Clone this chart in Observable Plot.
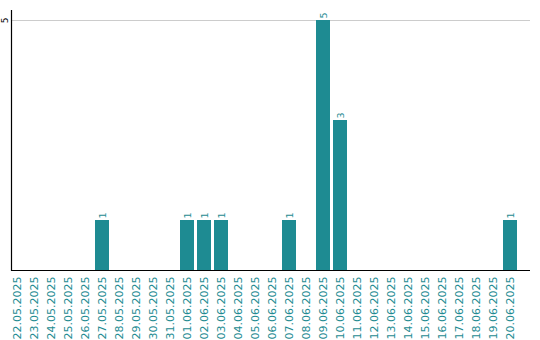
<!DOCTYPE html>
<html>
<head>
<meta charset="utf-8">
<script src="https://cdn.jsdelivr.net/npm/d3@7"></script>
<script src="https://cdn.jsdelivr.net/npm/@observablehq/plot@0.6"></script>
<style>
  html, body { margin: 0; padding: 0; background: #fff; }
  #chart svg { display: block; }
</style>
</head>
<body>
<div id="chart"></div>
<script>
const dates = [
  "22.05.2025","23.05.2025","24.05.2025","25.05.2025","26.05.2025","27.05.2025",
  "28.05.2025","29.05.2025","30.05.2025","31.05.2025","01.06.2025","02.06.2025",
  "03.06.2025","04.06.2025","05.06.2025","06.06.2025","07.06.2025","08.06.2025",
  "09.06.2025","10.06.2025","11.06.2025","12.06.2025","13.06.2025","14.06.2025",
  "15.06.2025","16.06.2025","17.06.2025","18.06.2025","19.06.2025","20.06.2025"
];
const counts = [0,0,0,0,0,1, 0,0,0,0,1,1, 1,0,0,0,1,0, 5,3,0,0,0,0, 0,0,0,0,0,1];
const yTicks = [5];

const teal = "#1e8b92";
const data = dates.map((d, i) => ({date: d, count: counts[i]}));
const nonzero = data.filter(d => d.count > 0);

const chart = Plot.plot({
  width: 540,
  height: 340,
  marginTop: 10,
  marginLeft: 11,
  marginRight: 10,
  marginBottom: 70,
  style: {fontFamily: "DejaVu Sans, sans-serif", background: "#fff"},
  x: {domain: dates, range: [8.5, 518.5], paddingInner: 0.18, paddingOuter: 0.09, label: null},
  y: {domain: [0, 5.2], label: null},
  marks: [
    Plot.gridY(yTicks, {stroke: "#cccccc", strokeOpacity: 1}),
    Plot.barY(nonzero, {x: "date", y: "count", fill: teal}),
    Plot.text(nonzero, {x: "date", y: "count", text: d => String(d.count), rotate: -90, textAnchor: "start", dy: -2, fill: teal, fontSize: 9.5}),
    Plot.ruleY([0], {stroke: "#000", strokeWidth: 1.2}),
    Plot.frame({anchor: "left", stroke: "#000", strokeWidth: 1.2}),
    Plot.axisX({tickSize: 0, tickRotate: -90, tickPadding: 6, fill: teal, fontSize: 11, label: null}),
    Plot.axisY(yTicks, {tickSize: 0, tickRotate: -90, tickPadding: 4, fontSize: 9, fill: "#000", tickFormat: d => String(d), label: null})
  ]
});
document.getElementById("chart").appendChild(chart);
</script>
</body>
</html>
